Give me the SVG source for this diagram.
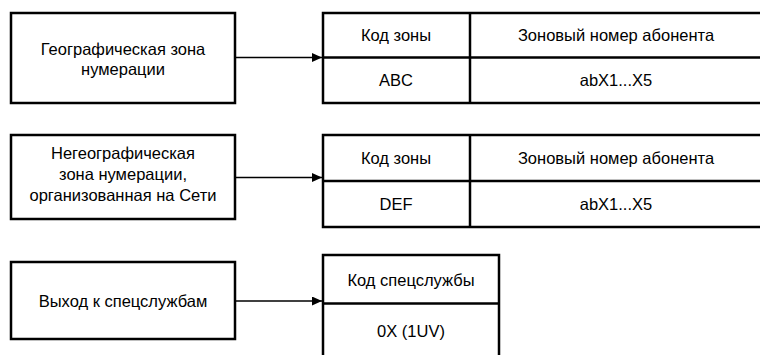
<svg xmlns="http://www.w3.org/2000/svg" width="760" height="355" viewBox="0 0 760 355">
  <style>
    .box { fill: #fff; stroke: #000; stroke-width: 2.5; }
    .sep { stroke: #000; stroke-width: 2.5; fill: none; }
    .link { stroke: #000; stroke-width: 1.5; fill: none; marker-end: url(#arrow); }
    text { font-family: "Liberation Sans", Arial, sans-serif; font-size: 16.5px; fill: #000; text-anchor: middle; }
  </style>
  <defs>
    <marker id="arrow" viewBox="0 0 10 9" refX="10" refY="4.5" markerWidth="10" markerHeight="9" markerUnits="userSpaceOnUse" orient="auto">
      <path d="M0,0 L10,4.5 L0,9 Z" fill="#000"/>
    </marker>
  </defs>

  <!-- source nodes -->
  <g id="geo-zone">
    <rect class="box" x="11" y="13" width="224" height="90"/>
    <text x="123" y="55">Географическая зона</text>
    <text x="123" y="75">нумерации</text>
  </g>
  <g id="nongeo-zone">
    <rect class="box" x="11" y="135" width="224" height="84"/>
    <text x="123" y="159">Негеографическая</text>
    <text x="123" y="180">зона нумерации,</text>
    <text x="123" y="201">организованная на Сети</text>
  </g>
  <g id="emergency">
    <rect class="box" x="11" y="262" width="224" height="77"/>
    <text x="123" y="307">Выход к спецслужбам</text>
  </g>

  <!-- number format tables -->
  <g id="abc-format">
    <rect class="box" x="323" y="13" width="441" height="90"/>
    <line class="sep" x1="323" y1="57.5" x2="764" y2="57.5"/>
    <line class="sep" x1="470" y1="13" x2="470" y2="103"/>
    <text x="396" y="41">Код зоны</text>
    <text x="616" y="41">Зоновый номер абонента</text>
    <text x="396" y="86">ABC</text>
    <text x="616" y="86">abX1...X5</text>
  </g>
  <g id="def-format">
    <rect class="box" x="323" y="135" width="441" height="92"/>
    <line class="sep" x1="323" y1="181" x2="764" y2="181"/>
    <line class="sep" x1="470" y1="135" x2="470" y2="227"/>
    <text x="396" y="164">Код зоны</text>
    <text x="616" y="164">Зоновый номер абонента</text>
    <text x="396" y="210">DEF</text>
    <text x="616" y="210">abX1...X5</text>
  </g>
  <g id="emergency-format">
    <rect class="box" x="323" y="255" width="176" height="110"/>
    <line class="sep" x1="323" y1="303.5" x2="499" y2="303.5"/>
    <text x="411" y="286">Код спецслужбы</text>
    <text x="411" y="337">0X (1UV)</text>
  </g>

  <!-- connectors -->
  <g id="connectors">
    <line class="link" x1="235" y1="57.5" x2="322" y2="57.5"/>
    <line class="link" x1="235" y1="177.5" x2="322" y2="177.5"/>
    <line class="link" x1="235" y1="301" x2="322" y2="301"/>
  </g>
</svg>
